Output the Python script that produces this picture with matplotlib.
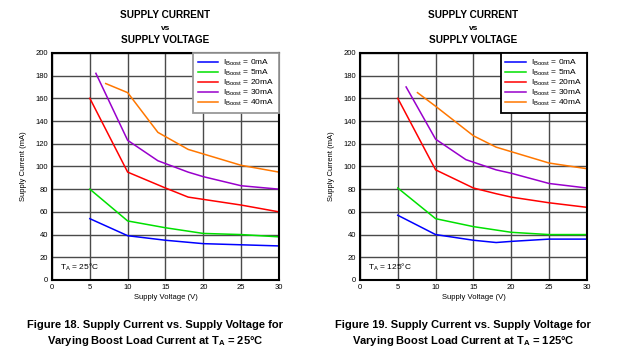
import matplotlib
matplotlib.use("Agg")
import matplotlib.pyplot as plt

plt.rcParams["font.family"] = ["Liberation Sans", "DejaVu Sans"]
plt.rcParams["mathtext.fontset"] = "custom"
plt.rcParams["mathtext.rm"] = "Liberation Sans"
plt.rcParams["mathtext.it"] = "Liberation Sans:italic"
plt.rcParams["mathtext.bf"] = "Liberation Sans:bold"

# Figure 18, T_A = 25C
v25_0 = [5, 10, 15, 20, 25, 30]
i25_0 = [54, 39, 35, 32, 31, 30]
v25_5 = [5, 10, 15, 18, 20, 25, 30]
i25_5 = [80, 52, 46, 43, 41, 40, 38]
v25_20 = [5, 10, 15, 18, 20, 25, 30]
i25_20 = [160, 95, 81, 73, 71, 66, 60]
v25_30 = [5.8, 10, 14, 18, 20, 25, 30]
i25_30 = [182, 123, 105, 95, 91, 83, 80]
v25_40 = [7.1, 10, 14, 18, 20, 25, 30]
i25_40 = [173, 165, 130, 115, 111, 101, 95]

# Figure 19, T_A = 125C
v125_0 = [5, 10, 15, 18, 20, 25, 30]
i125_0 = [57, 40, 35, 33, 34, 36, 36]
v125_5 = [5, 10, 15, 18, 20, 25, 30]
i125_5 = [81, 54, 47, 44, 42, 40, 40]
v125_20 = [5, 10, 15, 18, 20, 25, 30]
i125_20 = [160, 97, 81, 76, 73, 68, 64]
v125_30 = [6.1, 10, 14, 18, 20, 25, 30]
i125_30 = [170, 124, 106, 97, 94, 85, 81]
v125_40 = [7.6, 10, 15, 18, 20, 25, 30]
i125_40 = [165, 153, 127, 117, 113, 103, 98]

loads = ["0mA", "5mA", "20mA", "30mA", "40mA"]
colors = ["#0000ff", "#00e000", "#ff0000", "#9900cc", "#ff7700"]

fig = plt.figure(figsize=(6.2, 3.51), dpi=100)


def panel(left, curves, ta, fig_no, edge):
    ax = fig.add_axes([left, 0.2023, 0.366, 0.647])
    for (v, i), lab, c in zip(curves, loads, colors):
        ax.plot(v, i, color=c, lw=1.1, label=r"I$_{\rm Boost}$ = " + lab)
    ax.set_xlim(0, 30)
    ax.set_ylim(0, 200)
    ax.set_xticks(range(0, 31, 5))
    ax.set_yticks(range(0, 201, 20))
    ax.grid(True, color="#4a4a4a", lw=1.0)
    ax.tick_params(labelsize=5.5, length=0, pad=3)
    for s in ax.spines.values():
        s.set_linewidth(1.5)
    ax.set_xlabel("Supply Voltage (V)", fontsize=5.5, labelpad=2)
    ax.set_ylabel("Supply Current (mA)", fontsize=5.5, labelpad=6)
    ax.text(1, 9, "T$_{\\rm A}$ = " + ta, fontsize=6)
    leg = ax.legend(loc="upper right", fontsize=6.0, handlelength=2.5,
                    labelspacing=0.0, borderaxespad=0.0, fancybox=False,
                    framealpha=1, edgecolor=edge, borderpad=0.55,
                    handletextpad=0.6)
    leg.get_frame().set_linewidth(1.3)
    cx = left + 0.183
    fig.text(cx, 0.957, "SUPPLY CURRENT", ha="center", va="center",
             fontsize=7.2, fontweight="bold")
    fig.text(cx, 0.92, "vs", ha="center", va="center", fontsize=6,
             fontweight="bold")
    fig.text(cx, 0.886, "SUPPLY VOLTAGE", ha="center", va="center",
             fontsize=7.2, fontweight="bold")
    fig.text(cx - 0.017, 0.074,
             "Figure %d. Supply Current vs. Supply Voltage for" % fig_no,
             ha="center", va="center", fontsize=8, fontweight="bold")
    fig.text(cx - 0.017, 0.028,
             r"Varying Boost Load Current at T$_{\bf A}$ = " + ta,
             ha="center", va="center", fontsize=8, fontweight="bold")


panel(0.0839,
      [(v25_0, i25_0), (v25_5, i25_5), (v25_20, i25_20),
       (v25_30, i25_30), (v25_40, i25_40)],
      "25°C", 18, "#999999")
panel(0.5806,
      [(v125_0, i125_0), (v125_5, i125_5), (v125_20, i125_20),
       (v125_30, i125_30), (v125_40, i125_40)],
      "125°C", 19, "black")

fig.savefig("out.png", dpi=100)
